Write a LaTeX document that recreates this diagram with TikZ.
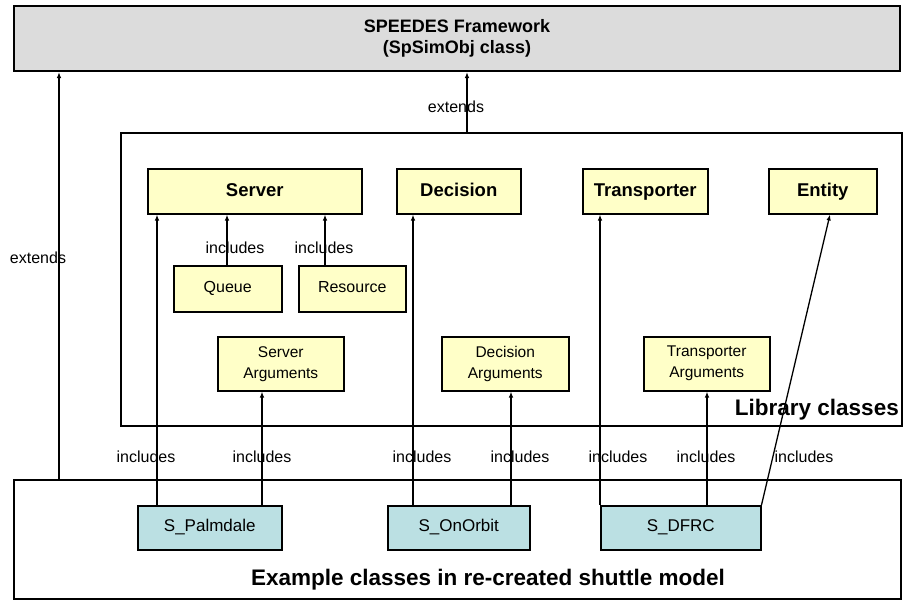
\documentclass[tikz,border=0pt]{standalone}
\usepackage{fontspec}
\setmainfont{Liberation Sans}
\usetikzlibrary{arrows.meta}
\definecolor{boxyellow}{RGB}{255,255,200}
\definecolor{boxcyan}{RGB}{187,224,227}
\definecolor{boxgray}{RGB}{220,220,220}
\begin{document}
\begin{tikzpicture}[x=1pt,y=-1pt,
  base/.style={draw=black,line width=1.5pt,inner sep=0pt,align=center,anchor=north west},
  ybox/.style={base,fill=boxyellow},
  cbox/.style={base,fill=boxcyan},
  frame/.style={base,fill=none},
  bigbold/.style={font=\fontsize{18.5}{18.5}\selectfont\bfseries,text height=13.5pt,text depth=4pt},
  plain/.style={font=\fontsize{16}{16}\selectfont,text height=11.5pt,text depth=3.5pt},
  args/.style={font=\fontsize{15.5}{21}\selectfont},
  lbl/.style={font=\fontsize{16}{16}\selectfont,inner sep=0pt},
  arr/.style={line width=1.3pt,-{Latex[length=6pt,width=4.5pt]}},
  ln/.style={line width=1.3pt}
]
\useasboundingbox (0,0) rectangle (904,600);
% containers
\node[base,fill=boxgray,line width=2pt,minimum width=886pt,minimum height=65pt,
  font=\fontsize{18}{21}\selectfont\bfseries] (top) at (13,5) {SPEEDES Framework\\(SpSimObj class)};
\node[frame,minimum width=781pt,minimum height=293pt] (lib) at (120,132) {};
\node[frame,minimum width=887pt,minimum height=119pt] (ex) at (13,479) {};
\node[anchor=east,inner sep=0pt,font=\fontsize{22.5}{22.5}\selectfont\bfseries] (libl) at (899,410) {Library classes};
\node[inner sep=0pt,font=\fontsize{22.5}{22.5}\selectfont\bfseries] (exl) at (488,580) {Example classes in re-created shuttle model};
% library classes
\node[ybox,bigbold,minimum width=214pt,minimum height=45pt] (server) at (147,168) {Server};
\node[ybox,bigbold,minimum width=124pt,minimum height=45pt] (decision) at (396,168) {Decision};
\node[ybox,bigbold,minimum width=125pt,minimum height=45pt] (transporter) at (582,168) {Transporter};
\node[ybox,bigbold,minimum width=108pt,minimum height=45pt] (entity) at (768,168) {Entity};
\node[ybox,plain,minimum width=108pt,minimum height=46pt] (queue) at (173,265) {Queue};
\node[ybox,plain,minimum width=107pt,minimum height=46pt] (resource) at (298,265) {Resource};
\node[ybox,args,minimum width=126pt,minimum height=54pt] (sargs) at (217,336) {Server\\Arguments};
\node[ybox,args,minimum width=127pt,minimum height=54pt] (dargs) at (441,336) {Decision\\Arguments};
\node[ybox,args,minimum width=126pt,minimum height=54pt] (targs) at (643,336) {Transporter\\Arguments};
% example classes
\node[cbox,plain,font=\fontsize{17}{17}\selectfont,minimum width=144pt,minimum height=44pt] (palm) at (137,505) {S\_Palmdale};
\node[cbox,plain,font=\fontsize{17}{17}\selectfont,minimum width=142pt,minimum height=44pt] (orbit) at (387,505) {S\_OnOrbit};
\node[cbox,plain,font=\fontsize{17}{17}\selectfont,minimum width=160pt,minimum height=44pt] (dfrc) at (600,505) {S\_DFRC};
% extends
\draw[arr] (lib.north -| 467,0) -- (top.south -| 467,0);
\node[lbl] (ext1) at (456,107) {extends};
\draw[arr] (ex.north -| 59,0) -- (top.south -| 59,0);
\node[lbl] (ext2) at (38,258) {extends};
% includes inside library
\draw[arr] (queue.north -| 227,0) -- (server.south -| 227,0);
\draw[arr] (resource.north -| 325,0) -- (server.south -| 325,0);
\node[lbl] (inc1) at (235,248) {includes};
\node[lbl] (inc2) at (324,248) {includes};
% includes from example classes
\draw[arr] (palm.north -| 157,0) -- (server.south -| 157,0);
\draw[arr] (palm.north -| 262,0) -- (sargs.south -| 262,0);
\draw[arr] (orbit.north -| 413,0) -- (decision.south -| 413,0);
\draw[arr] (orbit.north -| 511,0) -- (dargs.south -| 511,0);
\draw[arr] (dfrc.north west) -- (transporter.south -| dfrc.north west);
\draw[arr] (dfrc.north -| 707,0) -- (targs.south -| 707,0);
\draw[arr] (dfrc.north east) -- (entity.south -| 830,0);
\node[lbl] (inc3) at (146,457) {includes};
\node[lbl] (inc4) at (262,457) {includes};
\node[lbl] (inc5) at (422,457) {includes};
\node[lbl] (inc6) at (520,457) {includes};
\node[lbl] (inc7) at (618,457) {includes};
\node[lbl] (inc8) at (706,457) {includes};
\node[lbl] (inc9) at (804,457) {includes};
\end{tikzpicture}
\end{document}
